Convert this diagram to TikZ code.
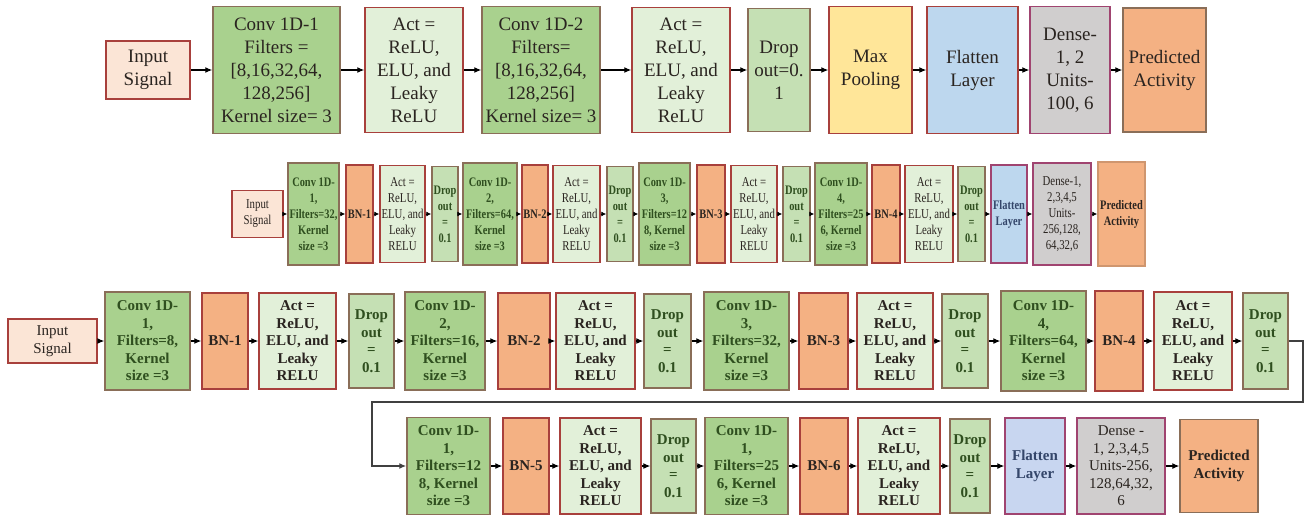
\documentclass[tikz,border=0pt]{standalone}
\usepackage{fontspec}
\setmainfont{Liberation Serif}
\newfontfamily\narrowserif[FakeStretch=0.8]{Liberation Serif}
\usetikzlibrary{arrows.meta}
\definecolor{cInp}{HTML}{FBE5D6}
\definecolor{cConv}{HTML}{A9D18E}
\definecolor{cAct}{HTML}{E2F0D9}
\definecolor{cDrop}{HTML}{C5E0B4}
\definecolor{cBN}{HTML}{F4B183}
\definecolor{cMax}{HTML}{FFE699}
\definecolor{cFlat}{HTML}{BDD7EE}
\definecolor{cFlatB}{HTML}{C8D6F0}
\definecolor{cDense}{HTML}{D0CECE}
\definecolor{cPred}{HTML}{F4B183}
\definecolor{eRed}{HTML}{A8403C}
\definecolor{eBrown}{HTML}{8A6E58}
\definecolor{ePurple}{HTML}{A04470}
\definecolor{tGreen}{HTML}{2F4F1F}
\definecolor{tDark}{HTML}{2A2420}
\definecolor{tBlue}{HTML}{34466A}
\newcommand\rowy{0}
\newcommand\bx[6]{%
  \pgfmathsetmacro\bxw{(#4)-(#3)}%
  \pgfmathsetmacro\bxc{((#3)+(#4))/2}%
  \node[box,#2,minimum width=\bxw pt,minimum height=#5pt] (#1) at (\bxc,\rowy) {#6};}
\begin{document}
\begin{tikzpicture}[x=1pt,y=-1pt,
  box/.style={draw,line width=1.5pt,inner sep=0pt,align=center,text=tDark},
  bInp/.style={fill=cInp,draw=eRed},
  bConv/.style={fill=cConv,draw=eBrown},
  bAct/.style={fill=cAct,draw=eRed},
  bDrop/.style={fill=cDrop,draw=eBrown},
  bBN/.style={fill=cBN,draw=eRed},
  bMax/.style={fill=cMax,draw=eRed},
  bFlat/.style={fill=cFlat,draw=ePurple},
  bDense/.style={fill=cDense,draw=ePurple},
  bPred/.style={fill=cPred,draw=eBrown},
  fTop/.style={font=\fontsize{19}{23}\selectfont},
  fMid/.style={font=\narrowserif\fontsize{13.5}{16}\selectfont},
  fMidB/.style={font=\narrowserif\bfseries\fontsize{13}{16}\selectfont},
  fBot/.style={font=\fontsize{15}{17.5}\selectfont},
  fBotB/.style={font=\bfseries\fontsize{15}{17.5}\selectfont},
  arr/.style={draw=black,line width=1.1pt,-{Latex[length=7pt,width=6pt]}},
  arrS/.style={draw=black,line width=0.9pt,-{Latex[length=5pt,width=5pt]}},
  link/.style={draw=black!75,line width=1.4pt,-{Latex[length=7pt,width=6pt]}}]
\useasboundingbox[fill=white] (0,0) rectangle (1306,517);
% ---------------- top row ----------------
\renewcommand\rowy{70}
\bx{tIn}{bInp,fTop}{106}{190}{58}{Input\\Signal}
\bx{tC1}{bConv,fTop}{213}{340}{127}{Conv 1D-1\\Filters =\\{}[8,16,32,64,\\128,256]\\Kernel size= 3}
\bx{tA1}{bAct,fTop}{365}{463}{125}{Act =\\ReLU,\\ELU, and\\Leaky\\ReLU}
\bx{tC2}{bConv,fTop}{482}{600}{127}{Conv 1D-2\\Filters=\\{}[8,16,32,64,\\128,256]\\Kernel size= 3}
\bx{tA2}{bAct,fTop}{632}{730}{125}{Act =\\ReLU,\\ELU, and\\Leaky\\ReLU}
\bx{tD}{bDrop,fTop}{748}{810}{123}{Drop\\out=0.\\1}
\bx{tM}{bMax,fTop}{829}{912}{127}{Max\\Pooling}
\bx{tF}{bFlat,fTop,draw=eRed}{927}{1018}{127}{Flatten\\Layer}
\bx{tDe}{bDense,fTop}{1030}{1110}{127}{Dense-\\1, 2\\Units-\\100, 6}
\bx{tP}{bPred,fTop}{1123}{1206}{124}{Predicted\\Activity}
\foreach \a/\b in {tIn/tC1,tC1/tA1,tA1/tC2,tC2/tA2,tA2/tD,tD/tM,tM/tF,tF/tDe,tDe/tP}
  \draw[arr] (\a) -- (\b);
% ---------------- middle row ----------------
\renewcommand\rowy{214}
\bx{mIn}{bInp,fMid}{232}{283}{47}{Input\\Signal}
\bx{mC1}{bConv,fMidB,text=tGreen}{288}{339}{102}{Conv 1D-\\1,\\Filters=32,\\Kernel\\size =3}
\bx{mB1}{bBN,fMidB}{346}{373}{98}{BN-1}
\bx{mA1}{bAct,fMid}{380}{425}{97}{Act =\\ReLU,\\ELU, and\\Leaky\\RELU}
\bx{mD1}{bDrop,fMidB,text=tGreen}{432}{458}{95}{Drop\\out\\=\\0.1}
\bx{mC2}{bConv,fMidB,text=tGreen}{463}{517}{102}{Conv 1D-\\2,\\Filters=64,\\Kernel\\size =3}
\bx{mB2}{bBN,fMidB}{522}{548}{98}{BN-2}
\bx{mA2}{bAct,fMid}{553}{600}{97}{Act =\\ReLU,\\ELU, and\\Leaky\\RELU}
\bx{mD2}{bDrop,fMidB,text=tGreen}{607}{633}{95}{Drop\\out\\=\\0.1}
\bx{mC3}{bConv,fMidB,text=tGreen}{639}{690}{102}{Conv 1D-\\3,\\Filters=12\\8, Kernel\\size =3}
\bx{mB3}{bBN,fMidB}{697}{725}{98}{BN-3}
\bx{mA3}{bAct,fMid}{731}{777}{97}{Act =\\ReLU,\\ELU, and\\Leaky\\RELU}
\bx{mD3}{bDrop,fMidB,text=tGreen}{783}{810}{95}{Drop\\out\\=\\0.1}
\bx{mC4}{bConv,fMidB,text=tGreen}{815}{867}{102}{Conv 1D-\\4,\\Filters=25\\6, Kernel\\size =3}
\bx{mB4}{bBN,fMidB}{872}{900}{98}{BN-4}
\bx{mA4}{bAct,fMid}{905}{953}{97}{Act =\\ReLU,\\ELU, and\\Leaky\\RELU}
\bx{mD4}{bDrop,fMidB,text=tGreen}{958}{985}{95}{Drop\\out\\=\\0.1}
\bx{mF}{bFlat,fMidB,text=tBlue}{991}{1027}{98}{Flatten\\Layer}
\bx{mDe}{bDense,fMid}{1033}{1091}{102}{Dense-1,\\2,3,4,5\\Units-\\256,128,\\64,32,6}
\bx{mP}{bPred,fMidB,draw=cPred!85!black}{1098}{1145}{104}{Predicted\\Activity}
\foreach \a/\b in {mIn/mC1,mC1/mB1,mB1/mA1,mA1/mD1,mD1/mC2,mC2/mB2,mB2/mA2,mA2/mD2,mD2/mC3,mC3/mB3,mB3/mA3,mA3/mD3,mD3/mC4,mC4/mB4,mB4/mA4,mA4/mD4,mD4/mF,mF/mDe,mDe/mP}
  \draw[arrS] (\a) -- (\b);
% ---------------- bottom row 1 ----------------
\renewcommand\rowy{341}
\bx{bIn}{bInp,fBot}{8}{97}{44}{Input\\Signal}
\bx{bC1}{bConv,fBotB,text=tGreen}{105}{190}{98}{Conv 1D-\\1,\\Filters=8,\\Kernel\\size =3}
\bx{bB1}{bBN,fBotB}{202}{248}{96}{BN-1}
\bx{bA1}{bAct,fBotB}{259}{336}{96}{Act =\\ReLU,\\ELU, and\\Leaky\\RELU}
\bx{bD1}{bDrop,fBotB,text=tGreen}{349}{394}{94}{Drop\\out\\=\\0.1}
\bx{bC2}{bConv,fBotB,text=tGreen}{405}{485}{98}{Conv 1D-\\2,\\Filters=16,\\Kernel\\size =3}
\bx{bB2}{bBN,fBotB}{498}{550}{96}{BN-2}
\bx{bA2}{bAct,fBotB}{556}{635}{96}{Act =\\ReLU,\\ELU, and\\Leaky\\RELU}
\bx{bD2}{bDrop,fBotB,text=tGreen}{644}{691}{94}{Drop\\out\\=\\0.1}
\bx{bC3}{bConv,fBotB,text=tGreen}{704}{789}{98}{Conv 1D-\\3,\\Filters=32,\\Kernel\\size =3}
\bx{bB3}{bBN,fBotB}{799}{848}{96}{BN-3}
\bx{bA3}{bAct,fBotB}{857}{933}{96}{Act =\\ReLU,\\ELU, and\\Leaky\\RELU}
\bx{bD3}{bDrop,fBotB,text=tGreen}{942}{988}{94}{Drop\\out\\=\\0.1}
\bx{bC4}{bConv,fBotB,text=tGreen}{1001}{1086}{100}{Conv 1D-\\4,\\Filters=64,\\Kernel\\size =3}
\bx{bB4}{bBN,fBotB}{1095}{1143}{100}{BN-4}
\bx{bA4}{bAct,fBotB}{1154}{1232}{98}{Act =\\ReLU,\\ELU, and\\Leaky\\RELU}
\bx{bD4}{bDrop,fBotB,text=tGreen}{1243}{1288}{96}{Drop\\out\\=\\0.1}
\foreach \a/\b in {bIn/bC1,bC1/bB1,bB1/bA1,bA1/bD1,bD1/bC2,bC2/bB2,bB2/bA2,bA2/bD2,bD2/bC3,bC3/bB3,bB3/bA3,bA3/bD3,bD3/bC4,bC4/bB4,bB4/bA4,bA4/bD4}
  \draw[arr] (\a) -- (\b);
% ---------------- bottom row 2 ----------------
\renewcommand\rowy{466}
\bx{cC1}{bConv,fBotB,text=tGreen}{407}{490}{97}{Conv 1D-\\1,\\Filters=12\\8, Kernel\\size =3}
\bx{cB1}{bBN,fBotB}{503}{549}{96}{BN-5}
\bx{cA1}{bAct,fBotB}{560}{641}{96}{Act =\\ReLU,\\ELU, and\\Leaky\\RELU}
\bx{cD1}{bDrop,fBotB,text=tGreen}{651}{696}{94}{Drop\\out\\=\\0.1}
\bx{cC2}{bConv,fBotB,text=tGreen}{705}{788}{97}{Conv 1D-\\1,\\Filters=25\\6, Kernel\\size =3}
\bx{cB2}{bBN,fBotB}{800}{848}{96}{BN-6}
\bx{cA2}{bAct,fBotB}{858}{940}{96}{Act =\\ReLU,\\ELU, and\\Leaky\\RELU}
\bx{cD2}{bDrop,fBotB,text=tGreen}{950}{990}{94}{Drop\\out\\=\\0.1}
\bx{cF}{bFlat,fBotB,text=tBlue,fill=cFlatB}{1005}{1065}{96}{Flatten\\Layer}
\bx{cDe}{bDense,fBot}{1077}{1165}{96}{Dense -\\1, 2,3,4,5\\Units-256,\\128,64,32,\\6}
\bx{cP}{bPred,fBotB}{1180}{1258}{93}{Predicted\\Activity}
\foreach \a/\b in {cC1/cB1,cB1/cA1,cA1/cD1,cD1/cC2,cC2/cB2,cB2/cA2,cA2/cD2,cD2/cF,cF/cDe,cDe/cP}
  \draw[arr] (\a) -- (\b);
% ---------------- wrap connector ----------------
\coordinate (w1) at (1303,402);
\coordinate (w2) at (372,402);
\draw[link] (bD4.east) -| (w1) -- (w2) |- (cC1.west);
\end{tikzpicture}
\end{document}
